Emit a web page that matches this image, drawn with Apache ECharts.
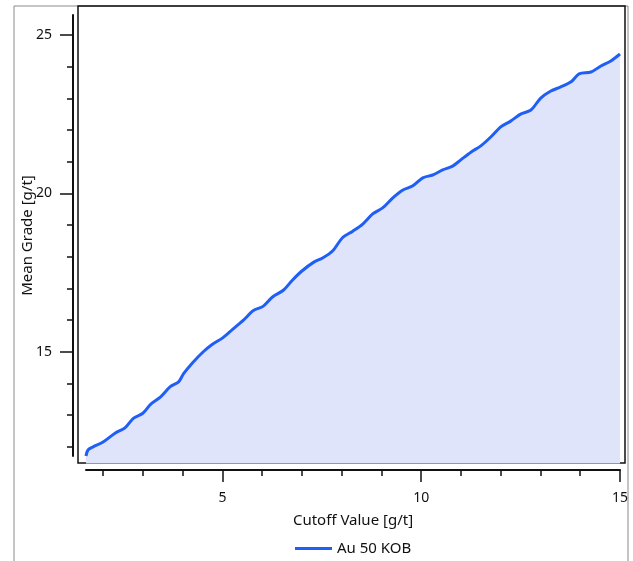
<!DOCTYPE html>
<html>
<head>
<meta charset="utf-8">
<script src="https://cdn.jsdelivr.net/npm/echarts@6/dist/echarts.min.js"></script>
<style>html,body{margin:0;padding:0;background:#fff;}#c{width:633px;height:561px;}</style>
</head>
<body>
<div id="c"></div>
<script>
const seriesName = 'Au 50 KOB';
const cutoff = [1.57,1.62,1.75,2.0,2.3,2.55,2.76,3.0,3.2,3.44,3.69,3.9,4.02,4.24,4.52,4.75,5.0,5.25,5.53,5.78,6.03,6.26,6.54,6.76,7.0,7.3,7.52,7.77,8.02,8.27,8.53,8.78,9.03,9.28,9.53,9.78,10.04,10.29,10.54,10.79,10.99,11.25,11.5,11.75,12.0,12.25,12.5,12.76,13.0,13.26,13.51,13.77,13.97,14.27,14.52,14.77,15.0];
const meanGrade = [11.71,11.9,12.0,12.15,12.43,12.6,12.9,13.06,13.35,13.57,13.9,14.05,14.3,14.64,15.0,15.24,15.43,15.7,16.0,16.3,16.44,16.73,16.95,17.26,17.55,17.83,17.96,18.18,18.6,18.8,19.03,19.35,19.54,19.85,20.1,20.23,20.49,20.58,20.74,20.86,21.05,21.3,21.5,21.78,22.1,22.28,22.5,22.63,23.0,23.23,23.36,23.52,23.77,23.83,24.02,24.18,24.4];
const xMajorTicks = [5,10,15];
const xMinorTicks = [2,3,4,6,7,8,9,11,12,13,14];
const yMajorTicks = [15,20,25];
const yMinorTicks = [12,13,14,16,17,18,19,21,22,23,24];

const font = 'Noto Sans';
const chart = echarts.init(document.getElementById('c'), null, {renderer:'canvas'});
const data = cutoff.map((x,i)=>[x, meanGrade[i]]);
const X_MIN = 1.57, X_MAX = 15, Y_MIN = 11.71, Y_MAX = 25.63;

chart.setOption({
  animation:false,
  backgroundColor:'#fff',
  textStyle:{fontFamily:font},
  graphic:[{type:'rect', shape:{x:14,y:6,width:614,height:600}, style:{fill:null, stroke:'#8a8a8a', lineWidth:1}, z:-1}],
  grid:[
    {left:86, right:13, top:15, bottom:105, show:false},
    {left:78, right:8, top:6, bottom:98, show:true, borderColor:'#111', borderWidth:1.5, backgroundColor:'transparent'}
  ],
  legend:{
    left:290, top:536, icon:'rect', itemWidth:37, itemHeight:3, itemGap:8,
    textStyle:{fontFamily:font, fontSize:15, color:'#111'},
    data:[seriesName]
  },
  xAxis:[
    {type:'value', gridIndex:0, min:X_MIN, max:X_MAX, offset:14, position:'bottom',
     name:'Cutoff Value [g/t]', nameLocation:'middle', nameGap:43,
     nameTextStyle:{fontFamily:font, fontSize:15, color:'#111'},
     axisLine:{show:true, lineStyle:{color:'#111', width:2}},
     axisTick:{show:true, length:12, lineStyle:{color:'#111', width:1.5}, customValues:xMajorTicks},
     axisLabel:{show:true, margin:21, fontFamily:font, fontSize:14, color:'#111', customValues:xMajorTicks},
     splitLine:{show:false}},
    {type:'value', gridIndex:0, min:X_MIN, max:X_MAX, offset:14, position:'bottom',
     axisLine:{show:false},
     axisTick:{show:true, length:6, lineStyle:{color:'#111', width:1.5}, customValues:xMinorTicks},
     axisLabel:{show:false}, splitLine:{show:false}},
    {type:'value', gridIndex:1, show:false, min:0, max:1}
  ],
  yAxis:[
    {type:'value', gridIndex:0, min:Y_MIN, max:Y_MAX, offset:13, position:'left',
     name:'Mean Grade [g/t]', nameLocation:'middle', nameGap:38, nameMoveOverlap:false,
     nameTextStyle:{fontFamily:font, fontSize:15, color:'#111'},
     axisLine:{show:true, lineStyle:{color:'#111', width:2}},
     axisTick:{show:true, length:13, lineStyle:{color:'#111', width:1.5}, customValues:yMajorTicks},
     axisLabel:{show:true, margin:21, fontFamily:font, fontSize:14, color:'#111', customValues:yMajorTicks},
     splitLine:{show:false}},
    {type:'value', gridIndex:0, min:Y_MIN, max:Y_MAX, offset:13, position:'left',
     axisLine:{show:false},
     axisTick:{show:true, length:6, lineStyle:{color:'#111', width:1.5}, customValues:yMinorTicks},
     axisLabel:{show:false}, splitLine:{show:false}},
    {type:'value', gridIndex:1, show:false, min:0, max:1}
  ],
  series:[{
    name:seriesName, type:'line', xAxisIndex:0, yAxisIndex:0,
    data:data, showSymbol:false, symbol:'none', smooth:0.3, clip:false,
    lineStyle:{color:'#1f5ff5', width:3},
    itemStyle:{color:'#1f5ff5'},
    areaStyle:{color:'#e0e4fb', opacity:1, origin:11.47}
  }]
});
</script>
</body>
</html>
